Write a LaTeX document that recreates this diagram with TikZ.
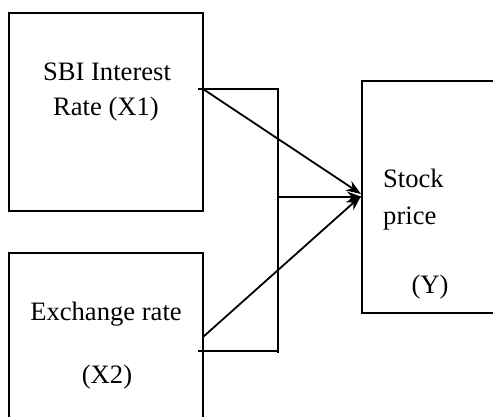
\documentclass[tikz,border=0pt]{standalone}
\usepackage{fontspec}
\setmainfont{Liberation Serif}
\usetikzlibrary{arrows.meta}
\begin{document}
\begin{tikzpicture}[x=1pt,y=-1pt,
  box/.style={draw,line width=1.8pt,inner sep=0pt},
  conn/.style={line width=1.8pt},
  arr/.style={line width=1.8pt,-{Stealth[length=15pt,width=11pt]}},
  lbl/.style={anchor=base,inner sep=0pt,font=\fontsize{26.6}{30}\selectfont}]
\useasboundingbox (0,0) rectangle (493,416);
\clip (0,0) rectangle (493,416);
% boxes
\node[box,minimum width=194pt,minimum height=198pt] (x1) at (106,112) {};
\node[box,minimum width=194pt,minimum height=200pt] (x2) at (106,353) {};
\node[box,minimum width=170pt,minimum height=232pt] (y) at (447,197) {};
% labels
\node[lbl] (t1) at (107,80) {SBI Interest};
\node[lbl] (t2) at (106,115) {Rate (X1)};
\node[lbl] (t3) at (106,320) {Exchange rate};
\node[lbl] (t4) at (107,383) {(X2)};
\node[lbl,anchor=base west] (t5) at (383,187) {Stock};
\node[lbl,anchor=base west] (t6) at (383,224) {price};
\node[lbl] (t7) at (430,293) {(Y)};
% connector points
\coordinate (a1) at (198,89);
\coordinate (a2) at (278,89);
\coordinate (a3) at (278,353);
\coordinate (a4) at (198,351);
\coordinate (a5) at (278,351);
\coordinate (m) at (278,197);
\coordinate (s1) at (203,89);
\coordinate (s2) at (203,337);
\coordinate (tip1) at (361,194);
\coordinate (tip2) at (361,196);
\coordinate (tip3) at (362,197);
% bracket
\draw[conn] (a1) -- (a2) -- (a3);
\draw[conn] (a4) -- (a5);
% arrows
\draw[arr] (s1) -- (tip1);
\draw[arr] (s2) -- (tip2);
\draw[arr] (m) -- (tip3);
\end{tikzpicture}
\end{document}
